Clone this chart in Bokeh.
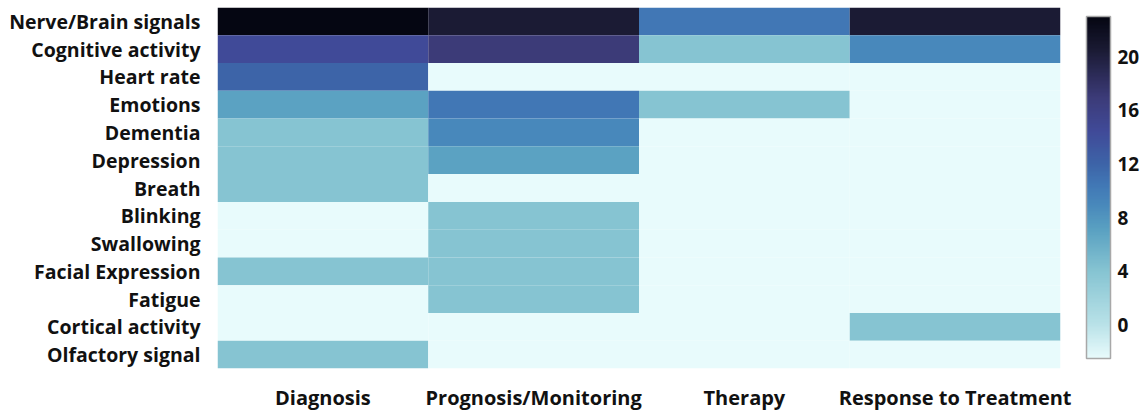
import numpy as np
from bokeh.plotting import figure
from bokeh.models import LinearColorMapper, ColorBar, FixedTicker, ColumnDataSource
from bokeh.transform import transform
from bokeh.embed import file_html
from bokeh.resources import INLINE

rows = ["Nerve/Brain signals", "Cognitive activity", "Heart rate", "Emotions",
        "Dementia", "Depression", "Breath", "Blinking", "Swallowing",
        "Facial Expression", "Fatigue", "Cortical activity", "Olfactory signal"]
cols = ["Diagnosis", "Prognosis/Monitoring", "Therapy", "Response to Treatment"]

# values (empty cells sit at the scale's bottom)
diagnosis = [23, 14.5, 12, 7, 4, 4, 4, -2.5, -2.5, 4, -2.5, -2.5, 4]
prognosis = [20.5, 17, -2.5, 10.5, 9, 7, -2.5, 4, 4, 4, 4, -2.5, -2.5]
therapy = [10.5, 4, -2.5, 4, -2.5, -2.5, -2.5, -2.5, -2.5, -2.5, -2.5, -2.5, -2.5]
response = [20.5, 9, -2.5, -2.5, -2.5, -2.5, -2.5, -2.5, -2.5, -2.5, -2.5, 4, -2.5]
cbar_ticks = [0, 4, 8, 12, 16, 20]
scale_low, scale_high = -2.5, 23

# colour ramp (pale cyan -> navy)
anchors = [(-2.5, "#e8fbfc"), (0, "#b9e2e8"), (4, "#86c4d2"), (7, "#5ba2c2"),
           (9, "#4888bb"), (10.5, "#4177b5"), (12, "#3d64a8"), (14.5, "#404a98"),
           (17, "#3c3b78"), (20.5, "#1b1b34"), (23, "#050612")]
av = np.array([a[0] for a in anchors])
ac = np.array([[int(h[i:i + 2], 16) for i in (1, 3, 5)] for _, h in anchors], float)
vs = np.linspace(scale_low, scale_high, 256)
palette = []
for v in vs:
    rgb = [np.interp(v, av, ac[:, k]) for k in range(3)]
    palette.append("#%02x%02x%02x" % tuple(int(round(c)) for c in rgb))

series = {"Diagnosis": diagnosis, "Prognosis/Monitoring": prognosis,
          "Therapy": therapy, "Response to Treatment": response}
xs, ys, vals = [], [], []
for c in cols:
    for r, v in zip(rows, series[c]):
        xs.append(c); ys.append(r); vals.append(v)
src = ColumnDataSource(dict(x=xs, y=ys, v=vals))

mapper = LinearColorMapper(palette=palette, low=scale_low, high=scale_high)

FONT = "Open Sans"
p = figure(width=1146, height=413, x_range=cols, y_range=list(reversed(rows)),
           output_backend="svg", toolbar_location=None,
           min_border_left=217, min_border_right=86, min_border_top=7,
           min_border_bottom=45)
p.rect(x="x", y="y", width=1, height=1, source=src,
       fill_color=transform("v", mapper), line_color=None)

p.outline_line_color = None
p.grid.grid_line_color = None
for ax in (p.xaxis[0], p.yaxis[0]):
    ax.axis_line_color = None
    ax.major_tick_line_color = None
    ax.minor_tick_line_color = None
    ax.major_tick_out = 0
    ax.major_label_text_font = FONT
    ax.major_label_text_font_style = "bold"
    ax.major_label_text_color = "#111111"
p.yaxis.major_label_text_font_size = "19.5px"
p.xaxis.major_label_text_font_size = "20px"
p.yaxis.major_label_standoff = 17
p.xaxis.major_label_standoff = 15

cb = ColorBar(color_mapper=mapper, ticker=FixedTicker(ticks=cbar_ticks),
              width=24, height=342, location=(26, 10), padding=0, margin=0,
              major_tick_line_color=None, minor_tick_line_color=None,
              bar_line_color="#a8a8a8", bar_line_width=1.5,
              border_line_color=None, background_fill_color=None,
              label_standoff=7,
              major_label_text_font=FONT, major_label_text_font_style="bold",
              major_label_text_font_size="19px", major_label_text_color="#111111")
p.add_layout(cb, "right")

open("out.html", "w").write(file_html(p, INLINE))
